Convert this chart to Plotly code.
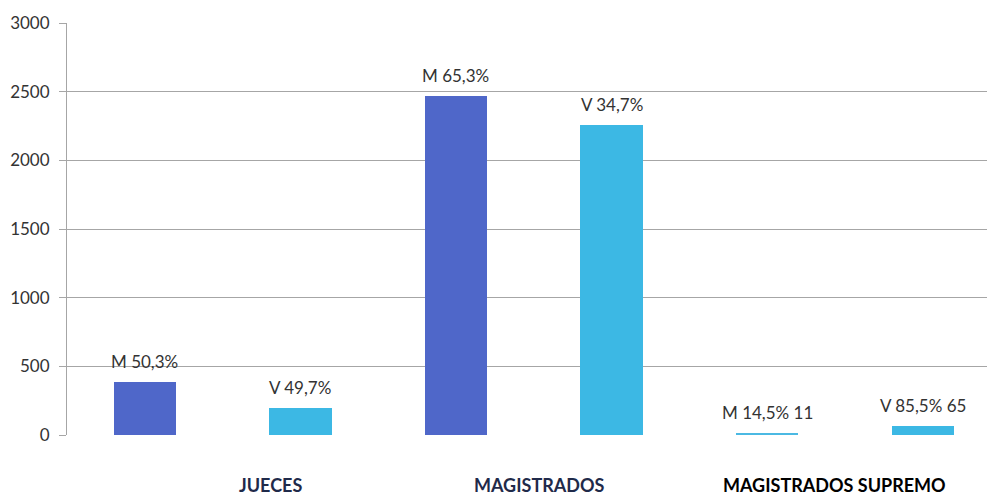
import plotly.graph_objects as go

categories = ["JUECES", "MAGISTRADOS", "MAGISTRADOS SUPREMO"]
mujeres = [388, 2467, 11]
varones = [198, 2256, 65]
labels_m = ["M 50,3%", "M 65,3%", "M 14,5% 11"]
labels_v = ["V 49,7%", "V 34,7%", "V 85,5% 65"]
yticks = [0, 500, 1000, 1500, 2000, 2500, 3000]

# category label anchor (offset within group, in slot units)
cat_offsets = [0.81, 2.54, 4.43]
cat_colors = ["#1F2A4A", "#1F2A4A", "#000000"]

x_m = [2 * i for i in range(len(categories))]
x_v = [2 * i + 1 for i in range(len(categories))]

colors_m = ["#4F67C9", "#4F67C9", "#4BB9E3"]
color_v = "#3CB8E4"

fig = go.Figure()
fig.add_trace(go.Bar(x=x_m, y=mujeres, width=0.4, marker=dict(color=colors_m, line=dict(width=0)),
                     name="M", showlegend=False, hoverinfo="y"))
fig.add_trace(go.Bar(x=x_v, y=varones, width=0.4, marker=dict(color=color_v, line=dict(width=0)),
                     name="V", showlegend=False, hoverinfo="y"))

font_lbl = dict(family="Lato", size=17, color="#333333")
for xs, ys, ls in [(x_m, mujeres, labels_m), (x_v, varones, labels_v)]:
    for x, y, l in zip(xs, ys, ls):
        fig.add_annotation(x=x, y=y, text=l, showarrow=False, xref="x", yref="y",
                           yanchor="bottom", yshift=8, font=font_lbl)

for c, xo, col in zip(categories, cat_offsets, cat_colors):
    fig.add_annotation(x=xo, y=0, xref="x", yref="y", text="<b>" + c + "</b>", showarrow=False,
                       yanchor="middle", yshift=-50, borderpad=0,
                       font=dict(family="Lato", size=18, color=col))

fig.update_layout(
    width=987, height=497,
    margin=dict(l=67, r=0, t=23, b=62),
    plot_bgcolor="white", paper_bgcolor="white",
    bargap=0,
    xaxis=dict(range=[-0.5, 5.413], showticklabels=False, showgrid=False, zeroline=False,
               showline=False, ticks=""),
    yaxis=dict(range=[0, 3000], tickvals=yticks, showgrid=True, gridcolor="#A6A6A6", gridwidth=1,
               zeroline=False, showline=True, linecolor="#A6A6A6", linewidth=1,
               ticks="outside", ticklen=7, tickcolor="#A6A6A6", ticklabelstandoff=6,
               tickfont=dict(family="Lato", size=17, color="#333333")),
)

fig.write_html("out.html", config={"displayModeBar": False},
               post_script="document.body.style.margin='0px';")
